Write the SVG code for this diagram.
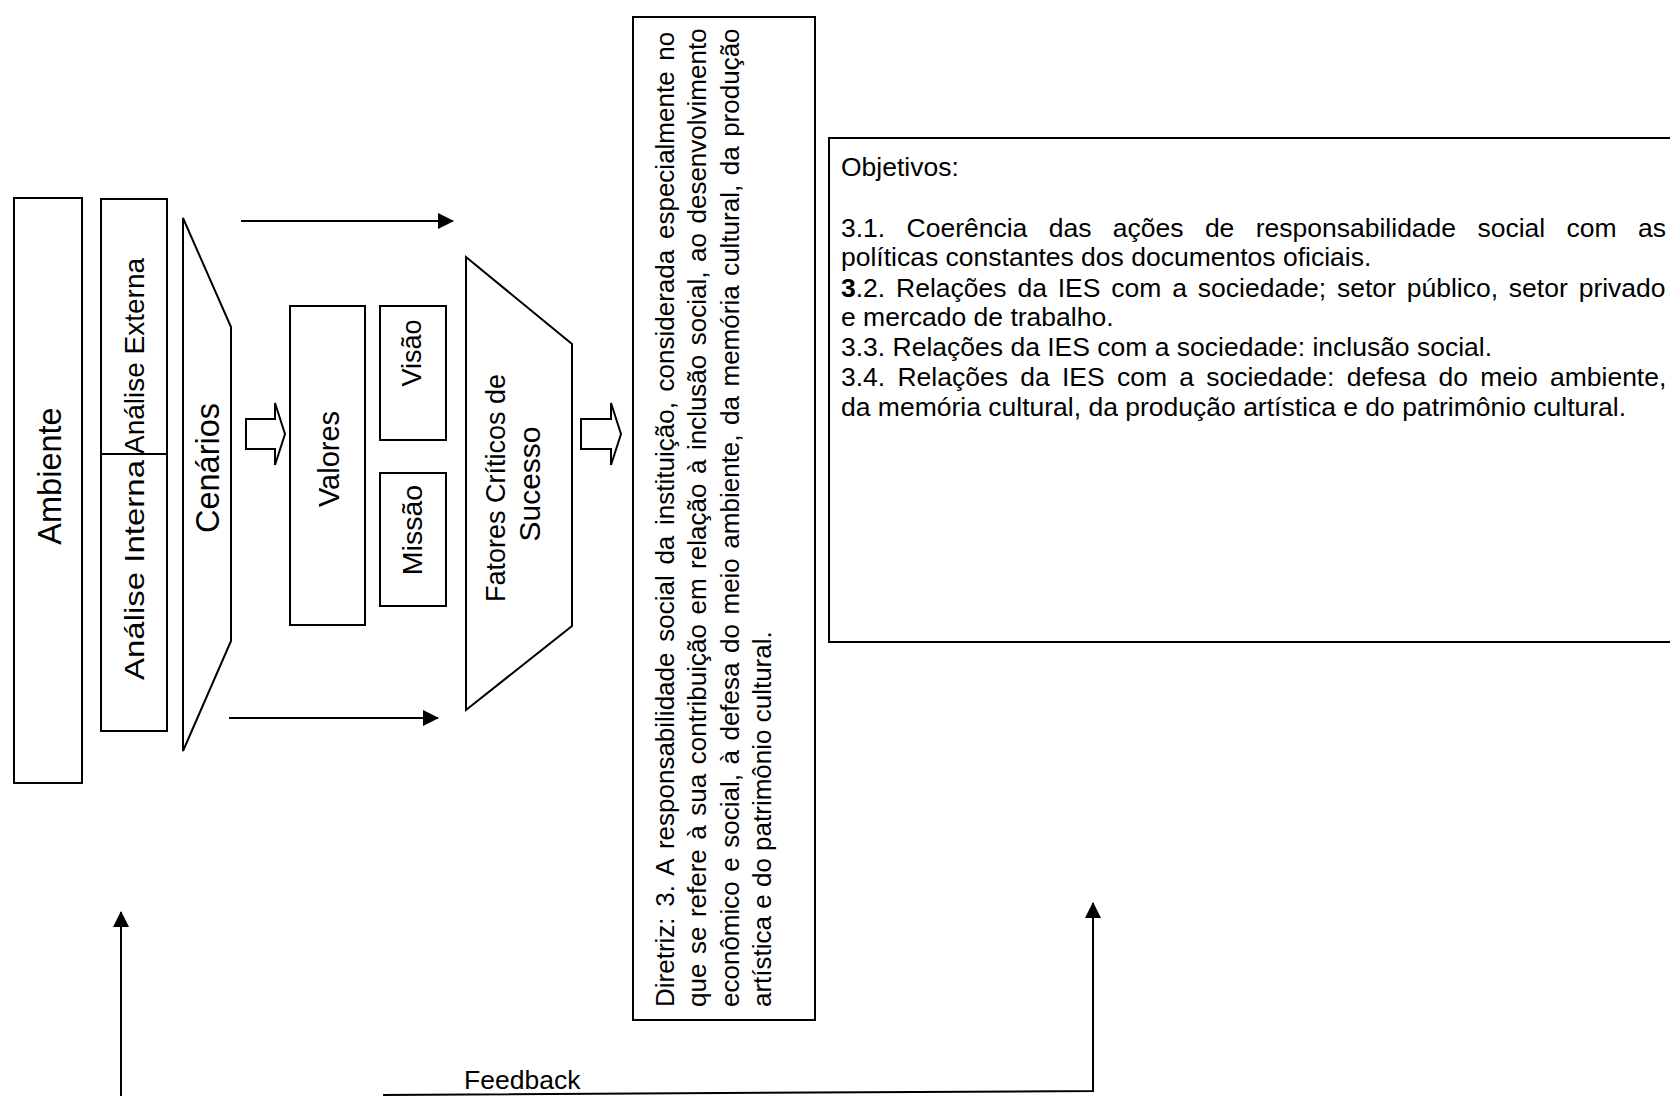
<svg xmlns="http://www.w3.org/2000/svg" width="1670" height="1096" viewBox="0 0 1670 1096">
  <style>
    .box { fill: #ffffff; stroke: #000000; stroke-width: 2; }
    .ln { fill: none; stroke: #000000; stroke-width: 2; }
    .t { font-family: "Liberation Sans", Arial, sans-serif; fill: #000000; }
    .vc { text-anchor: middle; dominant-baseline: central; }
  </style>
  <defs>
    <marker id="tri" viewBox="0 0 16 16" refX="15" refY="8" markerWidth="16" markerHeight="16" markerUnits="userSpaceOnUse" orient="auto">
      <path d="M0,0 L16,8 L0,16 Z" fill="#000000"/>
    </marker>
  </defs>
  <rect width="1670" height="1096" fill="#ffffff"/>

  <!-- Ambiente -->
  <g id="ambiente">
    <rect class="box" x="14" y="198" width="68" height="585"/>
    <text class="t vc" font-size="32.5" transform="translate(50,476) rotate(-90)">Ambiente</text>
  </g>

  <!-- Análise externa / interna -->
  <g id="analise">
    <rect class="box" x="101" y="199" width="66" height="532"/>
    <line class="ln" x1="101" y1="454" x2="167" y2="454"/>
    <text class="t vc" font-size="28" transform="translate(134,356) rotate(-90)">Análise Externa</text>
    <text class="t vc" font-size="28.5" textLength="220" lengthAdjust="spacingAndGlyphs" transform="translate(134,570) rotate(-90)">Análise Interna</text>
  </g>

  <!-- Cenários -->
  <g id="cenarios">
    <polygon class="box" points="183,218 231,327 231,641 183,751"/>
    <text class="t vc" font-size="32.5" transform="translate(208,468) rotate(-90)">Cenários</text>
  </g>

  <!-- Block arrow 1 -->
  <g id="seta-bloco-1">
    <polygon class="box" points="246,419 275,419 275,403 285,434 275,465 275,449 246,449"/>
  </g>

  <!-- Valores -->
  <g id="valores">
    <rect class="box" x="290" y="306" width="75" height="319"/>
    <text class="t vc" font-size="29" transform="translate(329,459) rotate(-90)">Valores</text>
  </g>

  <!-- Visão -->
  <g id="visao">
    <rect class="box" x="380" y="306" width="66" height="134"/>
    <text class="t vc" font-size="27" transform="translate(412,353) rotate(-90)">Visão</text>
  </g>

  <!-- Missão -->
  <g id="missao">
    <rect class="box" x="380" y="473" width="66" height="133"/>
    <text class="t vc" font-size="28.5" transform="translate(412,530) rotate(-90)">Missão</text>
  </g>

  <!-- Fatores Críticos de Sucesso -->
  <g id="fatores">
    <polygon class="box" points="466,257 572,344 572,626 466,710"/>
    <text class="t vc" font-size="27" transform="translate(496,488) rotate(-90)">Fatores Críticos de</text>
    <text class="t vc" font-size="30" transform="translate(529,484) rotate(-90)">Sucesso</text>
  </g>

  <!-- Block arrow 2 -->
  <g id="seta-bloco-2">
    <polygon class="box" points="581,419 611,419 611,403 621,434 611,465 611,449 581,449"/>
  </g>

  <!-- Diretriz -->
  <g id="diretriz">
    <rect class="box" x="633" y="17" width="182" height="1003"/>
    <text class="t" font-size="26" word-spacing="3.5" transform="translate(674,1007) rotate(-90)">Diretriz: 3. A responsabilidade social da instituição, considerada especialmente no</text>
    <text class="t" font-size="26" word-spacing="2.3" transform="translate(706,1007) rotate(-90)">que se refere à sua contribuição em relação à inclusão social, ao desenvolvimento</text>
    <text class="t" font-size="26" word-spacing="2.3" transform="translate(739,1007) rotate(-90)">econômico e social, à defesa do meio ambiente, da memória cultural, da produção</text>
    <text class="t" font-size="26" transform="translate(771,1007) rotate(-90)">artística e do patrimônio cultural.</text>
  </g>

  <!-- Objetivos -->
  <g id="objetivos">
    <rect class="box" x="829" y="138" width="900" height="504"/>
    <text class="t" font-size="26.5">
      <tspan x="841" y="176">Objetivos:</tspan>
      <tspan x="841" y="237" word-spacing="14">3.1. Coerência das ações de responsabilidade social com as</tspan>
      <tspan x="841" y="266">políticas constantes dos documentos oficiais.</tspan>
    </text>
    <text class="t" font-size="26.5" x="841" y="297" word-spacing="3.5"><tspan font-weight="bold">3</tspan>.2. Relações da IES com a sociedade; setor público, setor privado</text>
    <text class="t" font-size="26.5">
      <tspan x="841" y="326">e mercado de trabalho.</tspan>
      <tspan x="841" y="356">3.3. Relações da IES com a sociedade: inclusão social.</tspan>
      <tspan x="841" y="386" word-spacing="4.9">3.4. Relações da IES com a sociedade: defesa do meio ambiente,</tspan>
      <tspan x="841" y="416">da memória cultural, da produção artística e do patrimônio cultural.</tspan>
    </text>
  </g>

  <!-- Connectors -->
  <g id="conectores">
    <line class="ln" x1="241" y1="221" x2="453" y2="221" marker-end="url(#tri)"/>
    <line class="ln" x1="229" y1="718" x2="438" y2="718" marker-end="url(#tri)"/>
    <line class="ln" x1="121" y1="1096" x2="121" y2="912" marker-end="url(#tri)"/>
    <polyline class="ln" points="383,1095 1093,1091 1093,903" marker-end="url(#tri)"/>
    <text class="t" font-size="26.5" x="464" y="1089">Feedback</text>
  </g>
</svg>
